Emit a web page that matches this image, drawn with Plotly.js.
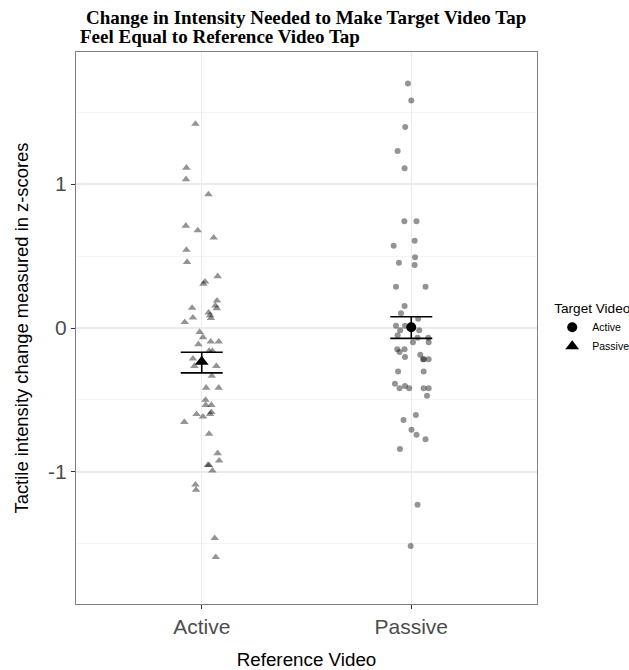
<!DOCTYPE html>
<html><head><meta charset="utf-8">
<script src="https://cdn.plot.ly/plotly-3.0.1.min.js"></script>
<style>html,body{margin:0;padding:0;background:#fff}#chart{width:629px;height:670px}</style>
</head><body><div id="chart"></div>
<script>
const categories = ["Active", "Passive"];
const targetNames = ["Passive", "Active"]; // target video for each reference video
const titleLines = ["Change in Intensity Needed to Make Target Video Tap", "Feel Equal to Reference Video Tap"];

// Reference = Active (target Passive, triangles)
const activeRefValues = [1.417,1.113,1.033,0.928,0.710,0.678,0.627,0.542,0.458,0.359,0.322,0.306,0.190,0.139,0.155,0.137,0.106,0.072,0.088,0.069,0.040,-0.028,-0.065,-0.095,-0.095,-0.113,-0.160,-0.160,-0.213,-0.264,-0.264,-0.333,-0.415,-0.415,-0.500,-0.535,-0.535,-0.599,-0.585,-0.599,-0.616,-0.653,-0.736,-0.870,-0.922,-0.953,-0.953,-0.991,-1.088,-1.125,-1.460,-1.592];
const activeRefJitter = [-0.030,-0.073,-0.075,0.032,-0.076,-0.019,0.057,-0.073,-0.070,0.076,0.016,0.008,0.073,-0.046,0.065,0.072,0.033,-0.042,0.040,0.044,-0.081,-0.010,0.006,0.043,0.081,-0.016,0.035,0.051,-0.042,-0.035,0.070,0.048,0.021,0.081,0.018,0.019,0.046,-0.025,0.046,0.040,0.006,-0.083,0.035,0.076,0.083,0.029,0.035,0.051,-0.030,-0.027,0.062,0.067];

// Reference = Passive (target Active, circles)
const passiveRefValues = [1.699,1.581,1.396,1.229,1.109,0.741,0.741,0.606,0.572,0.491,0.453,0.438,0.287,0.287,0.153,0.102,0.065,0.016,0.016,-0.016,-0.016,-0.051,-0.067,-0.067,-0.099,-0.099,-0.148,-0.167,-0.148,-0.201,-0.185,-0.217,-0.217,-0.217,-0.303,-0.303,-0.387,-0.419,-0.403,-0.419,-0.419,-0.419,-0.470,-0.604,-0.639,-0.706,-0.741,-0.773,-0.840,-1.227,-1.514];
const passiveRefJitter = [-0.016,0.000,-0.029,-0.065,-0.032,-0.033,0.025,0.016,-0.084,0.018,-0.059,0.016,-0.073,0.068,-0.032,-0.049,0.033,-0.073,-0.030,-0.053,0.038,-0.065,0.030,0.081,0.008,0.083,-0.067,-0.056,-0.032,-0.030,0.043,0.056,0.060,0.083,-0.063,0.059,-0.078,-0.056,-0.030,-0.010,0.059,0.083,0.075,0.022,-0.037,0.001,0.025,0.068,-0.054,0.030,-0.003];

// Group means and standard errors
const means = [-0.235, 0.005];
const seUpper = [0.067, 0.073];
const seLower = [0.077, 0.077];

const xPos = categories.map((c, i) => i + 1);

const traces = [
  {
    x: activeRefValues.map((v, i) => xPos[0] + activeRefJitter[i]),
    y: activeRefValues, type: 'scatter', mode: 'markers', showlegend: false, hoverinfo: 'y',
    marker: {symbol: 'triangle-up', size: 7.5, color: 'rgba(0,0,0,0.42)'}
  },
  {
    x: passiveRefValues.map((v, i) => xPos[1] + passiveRefJitter[i]),
    y: passiveRefValues, type: 'scatter', mode: 'markers', showlegend: false, hoverinfo: 'y',
    marker: {symbol: 'circle', size: 6, color: 'rgba(0,0,0,0.42)'}
  },
  {
    x: [xPos[1]], y: [means[1]], type: 'scatter', mode: 'markers', name: targetNames[1],
    marker: {symbol: 'circle', size: 10, color: '#000'},
    error_y: {type: 'data', symmetric: false, array: [seUpper[1]], arrayminus: [seLower[1]], color: '#000', thickness: 1.6, width: 21}
  },
  {
    x: [xPos[0]], y: [means[0]], type: 'scatter', mode: 'markers', name: targetNames[0],
    marker: {symbol: 'triangle-up', size: 12, color: '#000'},
    error_y: {type: 'data', symmetric: false, array: [seUpper[0]], arrayminus: [seLower[0]], color: '#000', thickness: 1.6, width: 21}
  }
];

const titleFont = {family: 'Liberation Serif, Times New Roman, serif', size: 19, color: '#000', weight: 'bold'};

const layout = {
  width: 629, height: 670,
  margin: {l: 76, r: 92, t: 52, b: 66, autoexpand: false},
  paper_bgcolor: '#fff', plot_bgcolor: '#fff',
  font: {family: 'Liberation Sans, Arial, sans-serif', color: '#000'},
  title: {
    text: titleLines[0], font: titleFont,
    xref: 'container', x: 86 / 629, xanchor: 'left', yref: 'container', y: 1 - 17 / 670, yanchor: 'middle'
  },
  annotations: [{
    text: titleLines[1], font: titleFont, showarrow: false,
    xref: 'paper', yref: 'paper', x: (78 - 76) / 461, xanchor: 'left', y: 1 + (52 - 37) / 552, yanchor: 'middle'
  }],
  xaxis: {
    range: [0.4, 2.6], tickvals: xPos, ticktext: categories,
    tickfont: {size: 21, color: '#4d4d4d'},
    ticks: 'outside', ticklen: 4, tickcolor: '#333',
    showgrid: true, gridcolor: '#ebebeb', gridwidth: 1.2, zeroline: false,
    showline: true, mirror: true, linecolor: '#7f7f7f', linewidth: 1,
    title: {text: 'Reference Video', font: {size: 18.8, color: '#000'}, standoff: 16}
  },
  yaxis: {
    range: [-1.917, 1.917], tickvals: [-1, 0, 1], ticktext: ['-1', '0', '1'],
    tickfont: {size: 21, color: '#4d4d4d'},
    ticks: 'outside', ticklen: 4, tickcolor: '#333',
    showgrid: true, gridcolor: '#ebebeb', gridwidth: 1.2, zeroline: false,
    minor: {tickvals: [-1.5, -0.5, 0.5, 1.5], showgrid: true, gridcolor: '#f4f4f4', gridwidth: 1, ticks: ''},
    showline: true, mirror: true, linecolor: '#7f7f7f', linewidth: 1,
    title: {text: 'Tactile intensity change measured in z-scores', font: {size: 18.4, color: '#000'}, standoff: 14}
  },
  legend: {
    x: 1.033, xanchor: 'left', y: 0.5, yanchor: 'middle',
    title: {text: 'Target Video', font: {size: 13.6, color: '#000'}},
    font: {size: 10.5, color: '#000'}, traceorder: 'normal', itemwidth: 30
  },
  showlegend: true
};

Plotly.newPlot('chart', traces, layout, {displayModeBar: false, staticPlot: true});
</script>
</body></html>
